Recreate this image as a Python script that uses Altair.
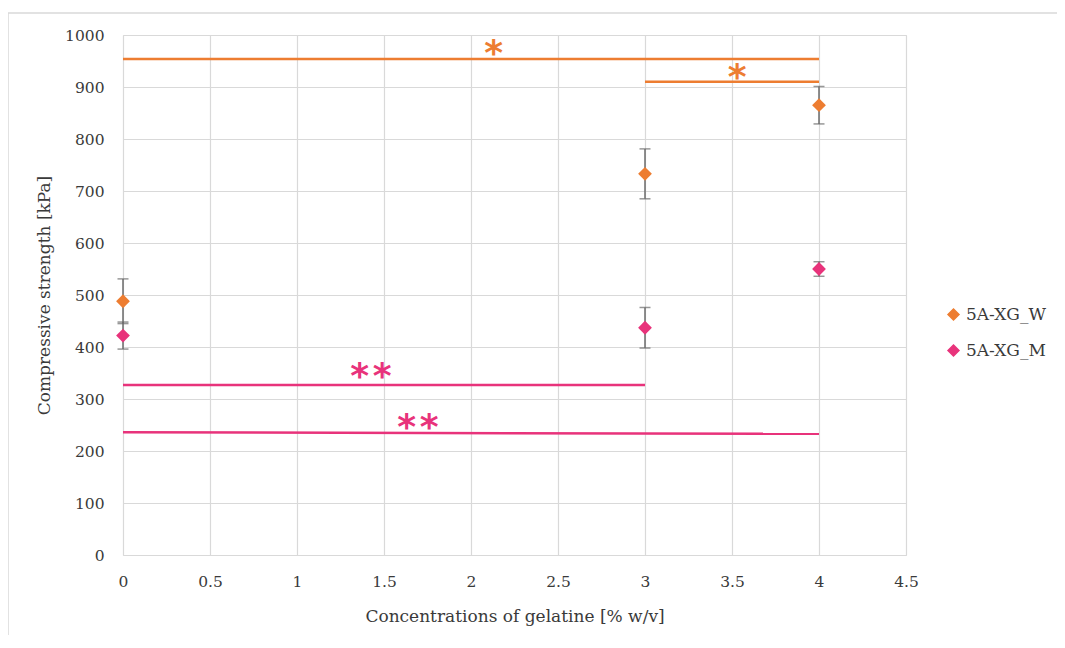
import altair as alt
import pandas as pd

# ---- data ----
conc = [0, 3, 4]
w_mean = [488, 733, 865]
w_err = [43, 48, 36]
m_mean = [422, 437, 550]
m_err = [26, 39, 14]
series = ["5A-XG_W", "5A-XG_M"]
colors = ["#ED7D31", "#E8337B"]

# significance bars: x start, x end, y start, y end, series
sig_x1 = [0, 3, 0, 0]
sig_x2 = [4, 4, 3, 4]
sig_y1 = [954, 910, 327, 236]
sig_y2 = [954, 910, 327, 233]
sig_series = ["5A-XG_W", "5A-XG_W", "5A-XG_M", "5A-XG_M"]

# significance labels
lab_text = ["*", "*", "*\u200a*", "*\u200a*"]
lab_x = [2.13, 3.53, 1.425, 1.695]
lab_y = [963, 917, 343, 244]
lab_series = ["5A-XG_W", "5A-XG_W", "5A-XG_M", "5A-XG_M"]

x_ticks = [0, 0.5, 1, 1.5, 2, 2.5, 3, 3.5, 4, 4.5]
y_ticks = list(range(0, 1001, 100))

FONT = "DejaVu Serif"
FS = 15.5
TFS = 17
LFS = 17
TXT = "#3a3a3a"

rows = []
for s, means, errs in [(series[0], w_mean, w_err), (series[1], m_mean, m_err)]:
    for c, m, e in zip(conc, means, errs):
        rows.append({"conc": c, "mean": m, "lo": m - e, "hi": m + e, "series": s})
df = pd.DataFrame(rows)

sig_df = pd.DataFrame({"x1": sig_x1, "x2": sig_x2, "y1": sig_y1, "y2": sig_y2, "series": sig_series})
lab_df = pd.DataFrame({"t": lab_text, "x": lab_x, "y": lab_y, "series": lab_series})

W, H = 783, 520

xs = alt.Scale(domain=[0, 4.5], nice=False)
ys = alt.Scale(domain=[0, 1000], nice=False)
cs = alt.Scale(domain=series, range=colors)

leg = alt.Legend(title=None, orient="none", legendX=822, legendY=271,
                 symbolType="diamond", symbolSize=120, symbolOpacity=1,
                 labelFontSize=LFS, labelFont=FONT, labelColor=TXT, rowPadding=18,
                 labelOffset=4, labelLimit=200)

x_axis = alt.Axis(values=x_ticks, title="Concentrations of gelatine [% w/v]", format="",
                  grid=True, ticks=False, domain=False, labelPadding=19, titlePadding=19,
                  labelFlush=False,
                  labelFont=FONT, labelFontSize=FS, labelColor=TXT,
                  titleFont=FONT, titleFontSize=TFS, titleColor=TXT, titleFontWeight="normal")
y_axis = alt.Axis(values=y_ticks, title="Compressive strength [kPa]", format="d",
                  grid=True, ticks=False, domain=False, labelPadding=19, titlePadding=11,
                  labelFlush=False,
                  labelFont=FONT, labelFontSize=FS, labelColor=TXT,
                  titleFont=FONT, titleFontSize=TFS, titleColor=TXT, titleFontWeight="normal")

base = alt.Chart(df)

err = base.mark_rule(color="#6b6b6b", strokeWidth=1.5).encode(
    x=alt.X("conc:Q", scale=xs, axis=x_axis),
    y=alt.Y("lo:Q", scale=ys, axis=y_axis), y2="hi:Q")
cap_lo = base.mark_tick(color="#6b6b6b", orient="horizontal", size=11, thickness=1.5).encode(
    x=alt.X("conc:Q", scale=xs, axis=x_axis), y=alt.Y("lo:Q", scale=ys, axis=y_axis))
cap_hi = base.mark_tick(color="#6b6b6b", orient="horizontal", size=11, thickness=1.5).encode(
    x=alt.X("conc:Q", scale=xs, axis=x_axis), y=alt.Y("hi:Q", scale=ys, axis=y_axis))

pts = base.mark_point(shape="diamond", filled=True, size=190, opacity=1).encode(
    x=alt.X("conc:Q", scale=xs, axis=x_axis),
    y=alt.Y("mean:Q", scale=ys, axis=y_axis),
    color=alt.Color("series:N", scale=cs, legend=leg))

sig = alt.Chart(sig_df).mark_rule(strokeWidth=2.5).encode(
    x=alt.X("x1:Q", scale=xs, axis=x_axis), x2="x2:Q",
    y=alt.Y("y1:Q", scale=ys, axis=y_axis), y2="y2:Q",
    color=alt.Color("series:N", scale=cs, legend=leg))

labs = alt.Chart(lab_df).mark_text(fontSize=36, fontWeight="bold", font="DejaVu Sans",
                                   baseline="middle", align="center").encode(
    x=alt.X("x:Q", scale=xs, axis=x_axis), y=alt.Y("y:Q", scale=ys, axis=y_axis), text="t:N",
    color=alt.Color("series:N", scale=cs, legend=leg))

frame = alt.Chart(pd.DataFrame({"a": [0]})).mark_rect(
    fill=None, stroke="#d9d9d9", strokeWidth=1.5, clip=False).encode(
    x=alt.value(-115), x2=alt.value(W + 200), y=alt.value(-22), y2=alt.value(H + 200))

chart = alt.layer(frame, err, cap_lo, cap_hi, sig, pts, labs).properties(
    width=W, height=H,
    autosize=alt.AutoSizeParams(type="none"),
    padding={"left": 115, "top": 27, "right": 151, "bottom": 80},
).configure_view(stroke="#d9d9d9").configure_axis(
    gridColor="#d9d9d9", gridWidth=1.2,
)

chart.save("out.html", embed_options={"renderer": "svg", "actions": False})
